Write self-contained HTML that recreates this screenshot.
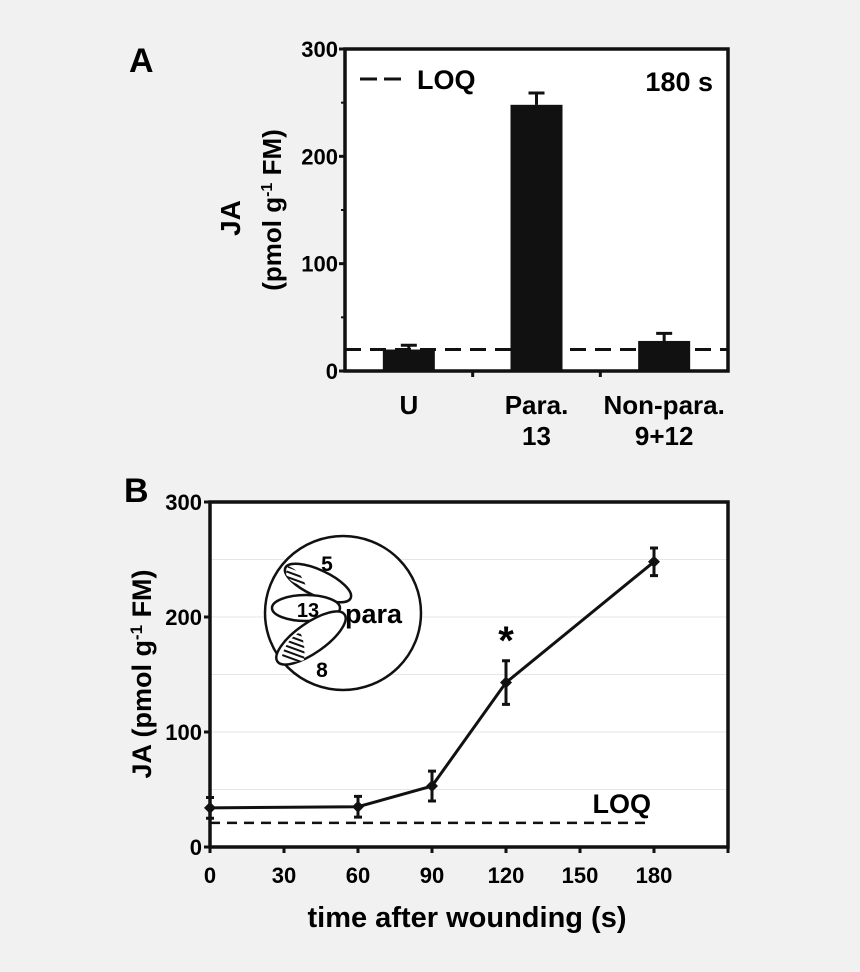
<!DOCTYPE html>
<html><head><meta charset="utf-8"><style>
html,body{margin:0;padding:0;background:#f1f1f1;}
svg{display:block;font-family:"Liberation Sans",Arial,sans-serif;font-weight:bold;}
</style></head><body>
<svg id="fig" width="860" height="972" viewBox="0 0 860 972">
<defs>
<pattern id="hatch" width="5" height="5" patternUnits="userSpaceOnUse" patternTransform="rotate(-70)">
<rect width="5" height="5" fill="#fff"/><rect width="2" height="5" fill="#111"/></pattern>
</defs>
<rect width="860" height="972" fill="#f1f1f1"/>
<g id="panelA"></g>
<g id="panelB"></g>
</svg>
<script>
// Panel A data
const catsA = ["U", "Para.|13", "Non-para.|9+12"];
const valsA = [20, 248, 28];
const errA = [4, 11, 7];
const loqA = 20;
const yTicksA = [0, 100, 200, 300];
// Panel B data
const timesB = [0, 60, 90, 120, 180];
const valsB = [34, 35, 53, 143, 248];
const errB = [9, 9, 13, 19, 12];
const xTicksB = [0, 30, 60, 90, 120, 150, 180];
const yTicksB = [0, 100, 200, 300];
const loqB = 21;

const NS = "http://www.w3.org/2000/svg";
function mk(tag, attrs, parent, text){
  const e = document.createElementNS(NS, tag);
  for (const k in attrs) e.setAttribute(k, attrs[k]);
  if (text !== undefined) e.textContent = text;
  parent.appendChild(e); return e;
}
const A = document.getElementById('panelA');
const B = document.getElementById('panelB');

// ---------- Panel A ----------
const aL=345, aR=728, aT=49, aB=371;
const yA = v => aB - (v/300)*(aB-aT);
const band = (aR-aL)/catsA.length;
const xA = i => aL + band*(i+0.5);
let t;
t = mk('text',{x:129,y:72,'font-size':34},A,'A');


mk('rect',{x:aL,y:aT,width:aR-aL,height:aB-aT,fill:'#fff'},A);
valsA.forEach((v,i)=>{
  const bw=52, cx=xA(i);
  const r = mk('rect',{x:cx-bw/2,y:yA(v),width:bw,height:aB-yA(v),fill:'#111'},A);
  
  
  const e = mk('path',{d:`M${cx} ${yA(v)}V${yA(v+errA[i])}M${cx-8} ${yA(v+errA[i])}H${cx+8}`,stroke:'#111','stroke-width':3,fill:'none'},A);
  
  
  const parts = catsA[i].split('|');
  parts.forEach((p,j)=>{
    const l = mk('text',{x:cx,y:414+j*31,'text-anchor':'middle','font-size':26},A,p);
    
    
  });
});
t = mk('line',{x1:aL,x2:aR,y1:yA(loqA),y2:yA(loqA),stroke:'#111','stroke-width':3,'stroke-dasharray':'16 9'},A);


mk('rect',{x:aL,y:aT,width:aR-aL,height:aB-aT,fill:'none',stroke:'#111','stroke-width':3.5},A);
yTicksA.forEach(v=>{
  mk('line',{x1:aL-6,x2:aL,y1:yA(v),y2:yA(v),stroke:'#111','stroke-width':3},A);
  const l = mk('text',{x:aL-7,y:yA(v)+8,'text-anchor':'end','font-size':22},A,v);
  
  
});
[50,150,250].forEach(v=>mk('line',{x1:aL-4,x2:aL,y1:yA(v),y2:yA(v),stroke:'#111','stroke-width':2},A));
for(let i=1;i<catsA.length;i++){mk('line',{x1:aL+band*i,x2:aL+band*i,y1:aB,y2:aB+6,stroke:'#111','stroke-width':3},A);}
t = mk('text',{transform:'translate(240,218) rotate(-90)','text-anchor':'middle','font-size':28},A,'JA');


t = mk('text',{transform:'translate(281,210) rotate(-90)','text-anchor':'middle','font-size':26},A);


t.innerHTML='(pmol g<tspan dy="-9" font-size="16">-1</tspan><tspan dy="9"> FM)</tspan>';
mk('path',{d:'M360 79H377M384 79H401',stroke:'#111','stroke-width':3},A);
t = mk('text',{x:417,y:89,'font-size':27},A,'LOQ');


t = mk('text',{x:713,y:91,'text-anchor':'end','font-size':27},A,'180 s');



// ---------- Panel B ----------
const bL=210, bR=728, bT=502, bB=847;
const xB = s => bL + (s/210)*(bR-bL);
const yB = v => bB - (v/300)*(bB-bT);
t = mk('text',{x:124,y:502,'font-size':34},B,'B');


mk('rect',{x:bL,y:bT,width:bR-bL,height:bB-bT,fill:'#fff'},B);
[50,100,150,200,250].forEach(v=>{
  const g = mk('line',{x1:bL,x2:bR,y1:yB(v),y2:yB(v),stroke:'#e6e6e6','stroke-width':1},B);
  
  
});
const ins = mk('g',{},B);


mk('ellipse',{cx:343,cy:613,rx:78,ry:77,fill:'#fff',stroke:'#111','stroke-width':2.5},ins);
mk('ellipse',{cx:318,cy:583,rx:36,ry:13,transform:'rotate(25 318 583)',fill:'#fff',stroke:'#111','stroke-width':2.5},ins);
mk('path',{d:'M288 566 Q300 570 306 586 Q290 584 286 574Z',fill:'url(#hatch)',stroke:'none'},ins);
mk('ellipse',{cx:306,cy:608,rx:34,ry:13,fill:'#fff',stroke:'#111','stroke-width':2.5},ins);
mk('ellipse',{cx:311,cy:638,rx:41,ry:15,transform:'rotate(-35 311 638)',fill:'#fff',stroke:'#111','stroke-width':2.5},ins);
mk('path',{d:'M282 656 Q286 640 300 632 Q306 644 304 660 Q292 665 282 656Z',fill:'url(#hatch)',stroke:'none'},ins);
mk('text',{x:327,y:571,'text-anchor':'middle','font-size':21},ins,'5');
mk('text',{x:308,y:617,'text-anchor':'middle','font-size':20},ins,'13');
mk('text',{x:322,y:677,'text-anchor':'middle','font-size':21},ins,'8');
mk('text',{x:345,y:623,'font-size':27},ins,'para');
t = mk('line',{x1:xB(0),x2:xB(177),y1:yB(loqB),y2:yB(loqB),stroke:'#111','stroke-width':2.5,'stroke-dasharray':'10 7'},B);


t = mk('text',{x:651,y:813,'text-anchor':'end','font-size':27},B,'LOQ');


const pts = timesB.map((s,i)=>xB(s)+','+yB(valsB[i])).join(' ');
t = mk('polyline',{points:pts,fill:'none',stroke:'#111','stroke-width':3},B);


timesB.forEach((s,i)=>{
  const x=xB(s), y=yB(valsB[i]), hi=yB(valsB[i]+errB[i]), lo=yB(valsB[i]-errB[i]);
  const e = mk('path',{d:`M${x} ${hi}V${lo}M${x-4} ${hi}H${x+4}M${x-4} ${lo}H${x+4}`,stroke:'#111','stroke-width':3,fill:'none'},B);
  
  
  const p = mk('path',{d:`M${x} ${y-6}L${x+6} ${y}L${x} ${y+6}L${x-6} ${y}Z`,fill:'#111'},B);
  
  
});
t = mk('text',{x:xB(120),y:654,'text-anchor':'middle','font-size':40},B,'*');


mk('rect',{x:bL,y:bT,width:bR-bL,height:bB-bT,fill:'none',stroke:'#111','stroke-width':3.5},B);
yTicksB.forEach(v=>{
  mk('line',{x1:bL-6,x2:bL,y1:yB(v),y2:yB(v),stroke:'#111','stroke-width':3},B);
  const l = mk('text',{x:bL-8,y:yB(v)+8,'text-anchor':'end','font-size':22},B,v);
  
  
});
xTicksB.concat([210]).forEach(s=>{
  mk('line',{x1:xB(s),x2:xB(s),y1:bB,y2:bB+6,stroke:'#111','stroke-width':3},B);
});
xTicksB.forEach(s=>{
  const l = mk('text',{x:xB(s),y:bB+36,'text-anchor':'middle','font-size':22},B,s);
  
  
});
t = mk('text',{x:467,y:927,'text-anchor':'middle','font-size':29},B,'time after wounding (s)');


t = mk('text',{transform:'translate(151,674) rotate(-90)','text-anchor':'middle','font-size':27},B);


t.innerHTML='JA (pmol g<tspan dy="-9" font-size="17">-1</tspan><tspan dy="9"> FM)</tspan>';
</script>
</body></html>
